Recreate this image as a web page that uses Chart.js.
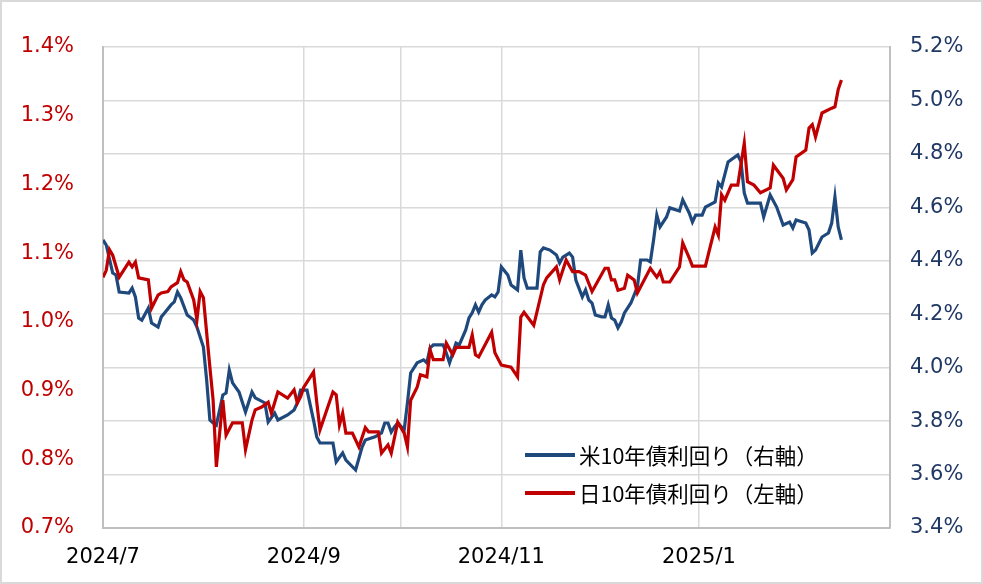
<!DOCTYPE html>
<html>
<head>
<meta charset="utf-8">
<script src="https://cdn.jsdelivr.net/npm/chart.js@4/dist/chart.umd.min.js"></script>
<style>
  html, body { margin: 0; padding: 0; background: #fff; }
  canvas { display: block; }
</style>
</head>
<body>
<canvas id="c" width="983" height="584"></canvas>
<script>
// x values: calendar days since 2024-07-01
const xTickDays   = [0, 62, 92, 123, 184, 243];
const xTickLabels = ['2024/7', '2024/9', '', '2024/11', '2025/1', ''];

const usLabel = '米10年債利回り（右軸）';
const jpLabel = '日10年債利回り（左軸）';

const usDay = [0,1,3,4,5,8,9,10,11,12,14,15,17,18,19,21,22,23,24,26,28,29,31,32,33,34,35,37,38,39,40,42,44,46,47,50,51,53,54,57,59,60,61,63,65,66,67,71,72,74,75,78,80,81,84,86,87,88,89,90,91,93,94,95,97,99,100,101,102,105,106,107,108,109,110,112,113,114,115,116,117,118,120,121,122,123,125,126,128,129,130,131,134,135,136,138,140,141,142,144,145,146,148,149,150,151,152,154,155,156,157,158,159,160,161,163,165,166,168,169,170,171,172,174,175,178,179,181,182,183,185,186,189,190,191,193,196,197,198,199,203,204,206,208,210,212,213,214,217,218,219,220,222,224,225,226,227,228];
const usYield = [4.478,4.459,4.354,4.347,4.283,4.279,4.298,4.265,4.186,4.178,4.223,4.167,4.152,4.190,4.205,4.235,4.246,4.283,4.261,4.197,4.178,4.152,4.077,3.954,3.804,3.793,3.785,3.898,3.905,3.991,3.943,3.909,3.834,3.909,3.887,3.868,3.797,3.830,3.804,3.823,3.842,3.868,3.916,3.916,3.804,3.741,3.718,3.718,3.647,3.681,3.654,3.617,3.703,3.729,3.741,3.756,3.793,3.793,3.759,3.778,3.793,3.767,3.868,3.980,4.018,4.029,4.018,4.074,4.085,4.085,4.055,4.018,4.055,4.092,4.085,4.141,4.186,4.205,4.235,4.208,4.235,4.253,4.272,4.265,4.283,4.377,4.347,4.309,4.291,4.440,4.336,4.298,4.298,4.433,4.448,4.440,4.422,4.392,4.414,4.429,4.414,4.328,4.265,4.291,4.253,4.242,4.197,4.190,4.190,4.235,4.186,4.178,4.149,4.171,4.205,4.242,4.302,4.403,4.403,4.396,4.478,4.571,4.527,4.564,4.598,4.586,4.628,4.579,4.545,4.571,4.571,4.601,4.620,4.691,4.676,4.770,4.796,4.770,4.654,4.616,4.616,4.564,4.646,4.601,4.534,4.545,4.523,4.553,4.541,4.515,4.429,4.440,4.489,4.504,4.541,4.639,4.527,4.478];

const jpDay = [0,1,2,3,5,8,9,10,11,14,15,17,18,20,21,23,24,25,26,28,29,30,31,33,34,35,37,38,40,43,44,46,47,49,51,52,54,57,59,60,61,62,65,66,67,71,72,73,74,75,77,79,81,82,85,86,88,89,91,93,94,95,97,98,100,101,102,105,106,108,109,113,114,115,116,120,121,123,126,128,129,130,133,136,137,140,141,143,145,147,149,151,155,156,157,158,159,161,162,164,165,169,171,172,173,175,178,179,181,182,186,189,190,191,192,194,196,198,199,201,203,206,207,210,211,213,214,217,218,219,220,222,225,226,227,228];
const jpYield = [1.065,1.075,1.105,1.097,1.065,1.087,1.080,1.087,1.064,1.061,1.020,1.039,1.042,1.044,1.051,1.057,1.073,1.061,1.058,1.032,1.003,1.044,1.035,0.934,0.886,0.789,0.886,0.835,0.853,0.853,0.814,0.857,0.872,0.876,0.883,0.867,0.898,0.889,0.901,0.882,0.891,0.905,0.927,0.883,0.843,0.898,0.894,0.850,0.867,0.838,0.838,0.818,0.846,0.840,0.840,0.809,0.821,0.809,0.854,0.838,0.818,0.886,0.905,0.923,0.920,0.959,0.945,0.945,0.969,0.952,0.963,0.963,0.981,0.952,0.949,0.985,0.955,0.937,0.934,0.920,1.007,1.014,0.995,1.054,1.064,1.080,1.061,1.090,1.073,1.073,1.068,1.044,1.078,1.078,1.061,1.061,1.046,1.049,1.068,1.061,1.042,1.078,1.065,1.073,1.058,1.058,1.080,1.115,1.093,1.081,1.081,1.138,1.126,1.185,1.177,1.199,1.199,1.260,1.204,1.199,1.188,1.195,1.228,1.209,1.192,1.207,1.240,1.250,1.282,1.287,1.269,1.304,1.311,1.313,1.338,1.352];

const US_COLOR = '#1F497D';
const JP_COLOR = '#C00000';
const GRID = '#d9d9d9';
const AXIS = '#bfbfbf';
const TICK_FONT = { family: 'DejaVu Sans', size: 21 };

const bgPlugin = {
  id: 'bg',
  beforeDraw(chart) {
    const ctx = chart.ctx;
    ctx.save();
    ctx.fillStyle = '#fff';
    ctx.fillRect(0, 0, chart.width, chart.height);
    ctx.strokeStyle = GRID;
    ctx.lineWidth = 2;
    ctx.strokeRect(1, 1, chart.width - 2, chart.height - 2);
    ctx.restore();
  }
};

const insideLegend = {
  id: 'insideLegend',
  afterDatasetsDraw(chart, args, opts) {
    const ctx = chart.ctx;
    chart.data.datasets.forEach((ds, i) => {
      const y = opts.y + i * opts.gap;
      ctx.save();
      ctx.strokeStyle = ds.borderColor;
      ctx.lineWidth = opts.lineWidth;
      ctx.beginPath();
      ctx.moveTo(opts.x, y);
      ctx.lineTo(opts.x + opts.len, y);
      ctx.stroke();
      ctx.fillStyle = '#000';
      ctx.font = opts.font;
      ctx.textBaseline = 'middle';
      ctx.fillText(ds.label, opts.x + opts.len + opts.textGap, y + 1);
      ctx.restore();
    });
  }
};

new Chart(document.getElementById('c'), {
  type: 'line',
  data: {
    datasets: [
      {
        label: usLabel,
        data: usDay.map((d, i) => ({ x: d, y: usYield[i] })),
        yAxisID: 'y1',
        borderColor: US_COLOR,
        borderWidth: 3.2,
        pointRadius: 0,
        tension: 0,
        order: 2
      },
      {
        label: jpLabel,
        data: jpDay.map((d, i) => ({ x: d, y: jpYield[i] })),
        yAxisID: 'y',
        borderColor: JP_COLOR,
        borderWidth: 3.2,
        pointRadius: 0,
        tension: 0,
        order: 1
      }
    ]
  },
  options: {
    responsive: false,
    animation: false,
    devicePixelRatio: 1,
    layout: { padding: { top: 47, left: 0, right: 0, bottom: 0 } },
    plugins: {
      legend: { display: false },
      tooltip: { enabled: false },
      insideLegend: {
        x: 525, y: 455, gap: 38, len: 50, textGap: 4, lineWidth: 4,
        font: '21.5px "Noto Sans CJK JP"'
      }
    },
    scales: {
      x: {
        type: 'linear',
        min: 0,
        max: 243,
        afterBuildTicks(s) { s.ticks = xTickDays.map(v => ({ value: v })); },
        afterFit(s) { s.height = 56; },
        ticks: {
          autoSkip: false,
          maxRotation: 0,
          padding: 17,
          color: '#000',
          font: TICK_FONT,
          callback: (v, i) => xTickLabels[i]
        },
        grid: { color: GRID, lineWidth: 1.5, drawTicks: false },
        border: { display: true, color: AXIS, width: 2 }
      },
      y: {
        position: 'left',
        min: 0.7,
        max: 1.4,
        afterFit(s) { s.width = 103; },
        ticks: {
          stepSize: 0.1,
          padding: 29,
          color: JP_COLOR,
          font: TICK_FONT,
          callback: v => v.toFixed(1) + '%'
        },
        grid: { display: false, drawTicks: false },
        border: { display: true, color: AXIS, width: 2 }
      },
      y1: {
        position: 'right',
        min: 3.4,
        max: 5.2,
        afterFit(s) { s.width = 93; },
        ticks: {
          stepSize: 0.2,
          padding: 20,
          color: '#203864',
          font: TICK_FONT,
          callback: v => v.toFixed(1) + '%'
        },
        grid: { color: GRID, lineWidth: 1.5, drawTicks: false },
        border: { display: true, color: AXIS, width: 2 }
      }
    }
  },
  plugins: [bgPlugin, insideLegend]
});
</script>
</body>
</html>
